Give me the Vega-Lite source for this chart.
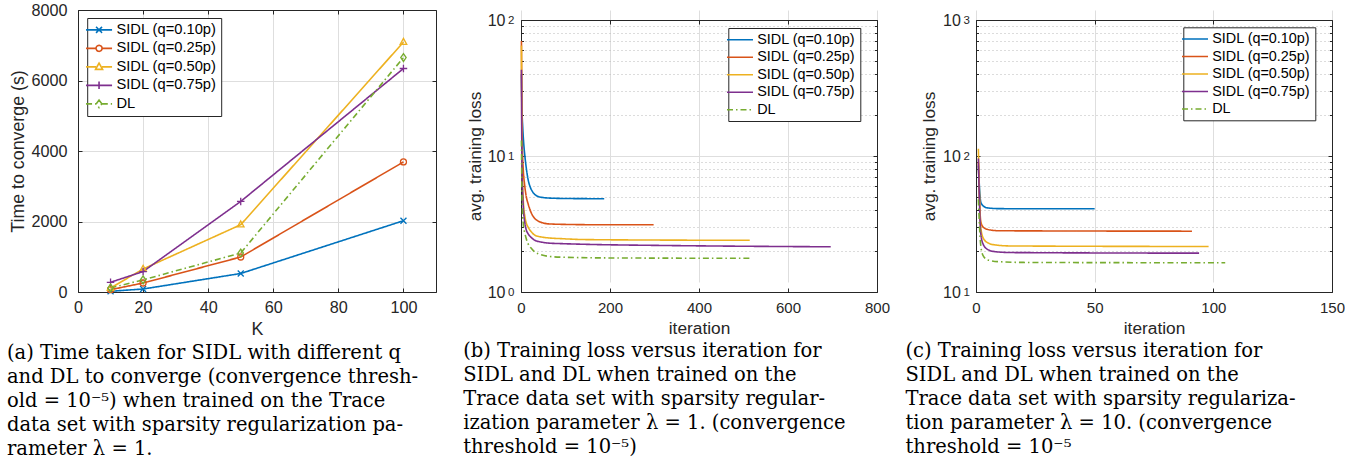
{
  "$schema": "https://vega.github.io/schema/vega-lite/v6.json",
  "padding": {"left": 6, "top": 2, "right": 0, "bottom": 0},
  "background": "white",
  "bounds": "flush",
  "spacing": 85,
  "resolve": {"scale": {"color": "independent", "strokeDash": "independent"}, "legend": {"color": "independent", "strokeDash": "independent"}},
  "config": {
    "font": "Liberation Sans",
    "view": {"stroke": null},
    "axis": {
      "labelFont": "Liberation Sans", "labelFontSize": 15, "labelColor": "#262626",
      "titleFont": "Liberation Sans", "titleFontSize": 17.3, "titleFontWeight": "normal", "titleColor": "#262626",
      "domainColor": "#262626", "tickColor": "#262626", "gridColor": "#dedede", "gridOpacity": 1,
      "labelFlush": false, "labelOverlap": false, "tickSize": -4, "domainWidth": 1, "tickWidth": 1
    },
    "legend": {
      "labelFont": "Liberation Sans", "labelFontSize": 14.4, "labelColor": "#000000",
      "strokeColor": "#262626", "fillColor": "white", "padding": 4.5, "rowPadding": 2.5,
      "symbolSize": 100, "symbolStrokeWidth": 1.6, "labelOffset": 10, "labelLimit": 300
    },
    "title": {
      "font": "DejaVu Serif", "fontSize": 19.5, "fontWeight": "normal", "color": "#000000",
      "anchor": "start", "orient": "bottom", "lineHeight": 24, "offset": 6, "baseline": "top"
    }
  },
  "datasets": {
    "time": [
      {"K": 10, "series": "SIDL (q=0.10p)", "time": 20},
      {"K": 20, "series": "SIDL (q=0.10p)", "time": 85},
      {"K": 50, "series": "SIDL (q=0.10p)", "time": 525},
      {"K": 100, "series": "SIDL (q=0.10p)", "time": 2022},
      {"K": 10, "series": "SIDL (q=0.25p)", "time": 65},
      {"K": 20, "series": "SIDL (q=0.25p)", "time": 255},
      {"K": 50, "series": "SIDL (q=0.25p)", "time": 993},
      {"K": 100, "series": "SIDL (q=0.25p)", "time": 3690},
      {"K": 10, "series": "SIDL (q=0.50p)", "time": 113},
      {"K": 20, "series": "SIDL (q=0.50p)", "time": 652},
      {"K": 50, "series": "SIDL (q=0.50p)", "time": 1909},
      {"K": 100, "series": "SIDL (q=0.50p)", "time": 7090},
      {"K": 10, "series": "SIDL (q=0.75p)", "time": 275},
      {"K": 20, "series": "SIDL (q=0.75p)", "time": 580},
      {"K": 50, "series": "SIDL (q=0.75p)", "time": 2570},
      {"K": 100, "series": "SIDL (q=0.75p)", "time": 6340},
      {"K": 10, "series": "DL", "time": 115},
      {"K": 20, "series": "DL", "time": 345},
      {"K": 50, "series": "DL", "time": 1106},
      {"K": 100, "series": "DL", "time": 6650}
    ],
    "lossB": [
      {"iter": 1, "series": "SIDL (q=0.10p)", "loss": 40},
      {"iter": 2, "series": "SIDL (q=0.10p)", "loss": 24},
      {"iter": 4, "series": "SIDL (q=0.10p)", "loss": 16},
      {"iter": 6, "series": "SIDL (q=0.10p)", "loss": 12.5},
      {"iter": 9, "series": "SIDL (q=0.10p)", "loss": 9.8},
      {"iter": 12, "series": "SIDL (q=0.10p)", "loss": 8.1},
      {"iter": 16, "series": "SIDL (q=0.10p)", "loss": 6.7},
      {"iter": 20, "series": "SIDL (q=0.10p)", "loss": 6.0},
      {"iter": 24, "series": "SIDL (q=0.10p)", "loss": 5.6},
      {"iter": 30, "series": "SIDL (q=0.10p)", "loss": 5.25},
      {"iter": 39, "series": "SIDL (q=0.10p)", "loss": 5.03},
      {"iter": 50, "series": "SIDL (q=0.10p)", "loss": 4.95},
      {"iter": 61, "series": "SIDL (q=0.10p)", "loss": 4.91},
      {"iter": 100, "series": "SIDL (q=0.10p)", "loss": 4.87},
      {"iter": 187, "series": "SIDL (q=0.10p)", "loss": 4.85},
      {"iter": 1, "series": "SIDL (q=0.25p)", "loss": 70},
      {"iter": 2, "series": "SIDL (q=0.25p)", "loss": 20},
      {"iter": 3, "series": "SIDL (q=0.25p)", "loss": 12},
      {"iter": 5, "series": "SIDL (q=0.25p)", "loss": 8.0},
      {"iter": 8, "series": "SIDL (q=0.25p)", "loss": 6.2},
      {"iter": 12, "series": "SIDL (q=0.25p)", "loss": 5.0},
      {"iter": 16, "series": "SIDL (q=0.25p)", "loss": 4.45},
      {"iter": 20, "series": "SIDL (q=0.25p)", "loss": 4.05},
      {"iter": 24, "series": "SIDL (q=0.25p)", "loss": 3.76},
      {"iter": 30, "series": "SIDL (q=0.25p)", "loss": 3.5},
      {"iter": 39, "series": "SIDL (q=0.25p)", "loss": 3.32},
      {"iter": 50, "series": "SIDL (q=0.25p)", "loss": 3.22},
      {"iter": 61, "series": "SIDL (q=0.25p)", "loss": 3.17},
      {"iter": 100, "series": "SIDL (q=0.25p)", "loss": 3.14},
      {"iter": 200, "series": "SIDL (q=0.25p)", "loss": 3.12},
      {"iter": 298, "series": "SIDL (q=0.25p)", "loss": 3.12},
      {"iter": 1, "series": "SIDL (q=0.50p)", "loss": 65},
      {"iter": 2, "series": "SIDL (q=0.50p)", "loss": 12},
      {"iter": 3, "series": "SIDL (q=0.50p)", "loss": 7},
      {"iter": 5, "series": "SIDL (q=0.50p)", "loss": 4.8},
      {"iter": 9, "series": "SIDL (q=0.50p)", "loss": 3.55},
      {"iter": 12, "series": "SIDL (q=0.50p)", "loss": 3.2},
      {"iter": 16, "series": "SIDL (q=0.50p)", "loss": 3.0},
      {"iter": 24, "series": "SIDL (q=0.50p)", "loss": 2.75},
      {"iter": 31, "series": "SIDL (q=0.50p)", "loss": 2.62},
      {"iter": 45, "series": "SIDL (q=0.50p)", "loss": 2.54},
      {"iter": 61, "series": "SIDL (q=0.50p)", "loss": 2.5},
      {"iter": 88, "series": "SIDL (q=0.50p)", "loss": 2.47},
      {"iter": 142, "series": "SIDL (q=0.50p)", "loss": 2.43},
      {"iter": 300, "series": "SIDL (q=0.50p)", "loss": 2.41},
      {"iter": 514, "series": "SIDL (q=0.50p)", "loss": 2.4},
      {"iter": 1, "series": "SIDL (q=0.75p)", "loss": 43},
      {"iter": 2, "series": "SIDL (q=0.75p)", "loss": 10},
      {"iter": 3, "series": "SIDL (q=0.75p)", "loss": 6.5},
      {"iter": 5, "series": "SIDL (q=0.75p)", "loss": 4.3},
      {"iter": 9, "series": "SIDL (q=0.75p)", "loss": 3.17},
      {"iter": 12, "series": "SIDL (q=0.75p)", "loss": 2.85},
      {"iter": 16, "series": "SIDL (q=0.75p)", "loss": 2.68},
      {"iter": 24, "series": "SIDL (q=0.75p)", "loss": 2.5},
      {"iter": 31, "series": "SIDL (q=0.75p)", "loss": 2.4},
      {"iter": 45, "series": "SIDL (q=0.75p)", "loss": 2.33},
      {"iter": 61, "series": "SIDL (q=0.75p)", "loss": 2.29},
      {"iter": 88, "series": "SIDL (q=0.75p)", "loss": 2.27},
      {"iter": 150, "series": "SIDL (q=0.75p)", "loss": 2.24},
      {"iter": 312, "series": "SIDL (q=0.75p)", "loss": 2.2},
      {"iter": 500, "series": "SIDL (q=0.75p)", "loss": 2.17},
      {"iter": 696, "series": "SIDL (q=0.75p)", "loss": 2.15},
      {"iter": 1, "series": "DL", "loss": 13},
      {"iter": 2, "series": "DL", "loss": 6},
      {"iter": 3, "series": "DL", "loss": 4.3},
      {"iter": 5, "series": "DL", "loss": 3.2},
      {"iter": 9, "series": "DL", "loss": 2.68},
      {"iter": 12, "series": "DL", "loss": 2.45},
      {"iter": 16, "series": "DL", "loss": 2.26},
      {"iter": 24, "series": "DL", "loss": 2.08},
      {"iter": 31, "series": "DL", "loss": 1.97},
      {"iter": 45, "series": "DL", "loss": 1.88},
      {"iter": 61, "series": "DL", "loss": 1.83},
      {"iter": 100, "series": "DL", "loss": 1.8},
      {"iter": 200, "series": "DL", "loss": 1.78},
      {"iter": 514, "series": "DL", "loss": 1.77}
    ],
    "lossC": [
      {"iter": 1, "series": "SIDL (q=0.10p)", "loss": 85},
      {"iter": 2, "series": "SIDL (q=0.10p)", "loss": 46},
      {"iter": 3, "series": "SIDL (q=0.10p)", "loss": 43},
      {"iter": 5, "series": "SIDL (q=0.10p)", "loss": 41.5},
      {"iter": 10, "series": "SIDL (q=0.10p)", "loss": 41},
      {"iter": 50, "series": "SIDL (q=0.10p)", "loss": 40.9},
      {"iter": 1, "series": "SIDL (q=0.25p)", "loss": 90},
      {"iter": 2, "series": "SIDL (q=0.25p)", "loss": 33},
      {"iter": 3, "series": "SIDL (q=0.25p)", "loss": 30},
      {"iter": 5, "series": "SIDL (q=0.25p)", "loss": 28.8},
      {"iter": 10, "series": "SIDL (q=0.25p)", "loss": 28.2},
      {"iter": 91, "series": "SIDL (q=0.25p)", "loss": 28},
      {"iter": 1, "series": "SIDL (q=0.50p)", "loss": 113},
      {"iter": 2, "series": "SIDL (q=0.50p)", "loss": 30},
      {"iter": 3, "series": "SIDL (q=0.50p)", "loss": 25},
      {"iter": 5, "series": "SIDL (q=0.50p)", "loss": 23},
      {"iter": 8, "series": "SIDL (q=0.50p)", "loss": 22.2},
      {"iter": 15, "series": "SIDL (q=0.50p)", "loss": 21.8},
      {"iter": 98, "series": "SIDL (q=0.50p)", "loss": 21.6},
      {"iter": 1, "series": "SIDL (q=0.75p)", "loss": 96},
      {"iter": 2, "series": "SIDL (q=0.75p)", "loss": 27},
      {"iter": 3, "series": "SIDL (q=0.75p)", "loss": 22.5},
      {"iter": 5, "series": "SIDL (q=0.75p)", "loss": 20.5},
      {"iter": 8, "series": "SIDL (q=0.75p)", "loss": 19.8},
      {"iter": 15, "series": "SIDL (q=0.75p)", "loss": 19.5},
      {"iter": 94, "series": "SIDL (q=0.75p)", "loss": 19.3},
      {"iter": 1, "series": "DL", "loss": 48},
      {"iter": 2, "series": "DL", "loss": 22},
      {"iter": 3, "series": "DL", "loss": 18.5},
      {"iter": 5, "series": "DL", "loss": 17.2},
      {"iter": 10, "series": "DL", "loss": 16.7},
      {"iter": 20, "series": "DL", "loss": 16.5},
      {"iter": 105, "series": "DL", "loss": 16.4}
    ]
  },
  "hconcat": [
    {
      "width": 358, "height": 282,
      "title": {"text": ["(a) Time taken for SIDL with different q", "and DL to converge (convergence thresh-", "old = 10⁻⁵) when trained on the Trace", "data set with sparsity regularization pa-", "rameter λ = 1."], "dx": -3},
      "data": {"name": "time"},
      "layer": [
        {
          "mark": {"type": "line", "strokeWidth": 1.6},
          "encoding": {
            "x": {"field": "K", "type": "quantitative", "scale": {"domain": [0, 110], "nice": false, "zero": false},
                  "axis": {"orient": "bottom", "values": [0, 20, 40, 60, 80, 100], "format": "d", "grid": true, "title": "K", "labelFontSize": 16.2, "titleFontSize": 17.8, "labelPadding": 11, "titlePadding": 5}},
            "y": {"field": "time", "type": "quantitative", "scale": {"domain": [0, 8000], "nice": false},
                  "axis": {"orient": "left", "values": [0, 2000, 4000, 6000, 8000], "format": "d", "grid": true, "title": "Time to converge (s)", "labelFontSize": 16.2, "titleFontSize": 17.8, "labelPadding": 15, "titlePadding": 3}},
            "color": {"field": "series", "type": "nominal",
                      "scale": {"domain": ["SIDL (q=0.10p)", "SIDL (q=0.25p)", "SIDL (q=0.50p)", "SIDL (q=0.75p)", "DL"], "range": ["#0072BD", "#D95319", "#EDB120", "#7E2F8E", "#77AC30"]},
                      "legend": {"title": null, "orient": "none", "legendX": 9.2, "legendY": 8, "labelFontSize": 14.7,
                                 "encode": {"symbols": {"update": {"fill": {"value": "transparent"}, "shape": {"signal": "datum.value === 'SIDL (q=0.10p)' ? 'M-2.6,0L2.6,0M-0.6,-0.6L0.6,0.6M-0.6,0.6L0.6,-0.6' : datum.value === 'SIDL (q=0.25p)' ? 'M-2.6,0L-0.6,0M0.6,0L2.6,0M0.6,0A0.6,0.6 0 1,1 -0.6,0A0.6,0.6 0 1,1 0.6,0' : datum.value === 'SIDL (q=0.50p)' ? 'M-2.6,0L-0.6,0M0.6,0L2.6,0M0,-0.75L0.7,0.5L-0.7,0.5Z' : datum.value === 'SIDL (q=0.75p)' ? 'M-2.6,0L2.6,0M0,-0.75L0,0.75' : 'M-2.6,0L-0.55,0M0.55,0L2.6,0M0,-0.75L0.55,0L0,0.75L-0.55,0Z'"}}}}}},
            "strokeDash": {"field": "series", "type": "nominal",
                           "scale": {"domain": ["SIDL (q=0.10p)", "SIDL (q=0.25p)", "SIDL (q=0.50p)", "SIDL (q=0.75p)", "DL"], "range": [[1, 0], [1, 0], [1, 0], [1, 0], [6, 3, 1.5, 3]]},
                           "legend": {"title": null, "orient": "none", "legendX": 9.2, "legendY": 8, "labelFontSize": 14.7}}
          }
        },
        {
          "mark": {"type": "point", "filled": false, "strokeWidth": 1.3, "size": 36, "opacity": 1},
          "encoding": {
            "x": {"field": "K", "type": "quantitative", "axis": null},
            "y": {"field": "time", "type": "quantitative", "axis": null},
            "color": {"field": "series", "type": "nominal", "legend": null},
            "shape": {"condition": [
                        {"test": "datum.series === 'SIDL (q=0.10p)'", "value": "M-1,-1L1,1M-1,1L1,-1"},
                        {"test": "datum.series === 'SIDL (q=0.25p)'", "value": "M1,0A1,1 0 1,1 -1,0A1,1 0 1,1 1,0Z"},
                        {"test": "datum.series === 'SIDL (q=0.50p)'", "value": "M0,-1.25L1.1,0.75L-1.1,0.75Z"},
                        {"test": "datum.series === 'SIDL (q=0.75p)'", "value": "M-1.25,0L1.25,0M0,-1.25L0,1.25"}
                      ],
                      "value": "M0,-1.3L0.9,0L0,1.3L-0.9,0Z"}
          }
        },
        {
          "mark": {"type": "point", "opacity": 0},
          "encoding": {
            "x": {"field": "K", "type": "quantitative", "axis": {"orient": "top", "values": [0, 20, 40, 60, 80, 100], "labels": false, "grid": false, "title": null}},
            "y": {"field": "time", "type": "quantitative", "axis": {"orient": "right", "values": [0, 2000, 4000, 6000, 8000], "labels": false, "grid": false, "title": null}}
          }
        }
      ],
      "resolve": {"axis": {"x": "independent", "y": "independent"}}
    },
    {
      "width": 370, "height": 282,
      "title": {"text": ["(b) Training loss versus iteration for", "SIDL and DL when trained on the", "Trace data set with sparsity regular-", "ization parameter λ = 1. (convergence", "threshold = 10⁻⁵)"], "dx": -3},
      "data": {"name": "lossB"},
      "layer": [
        {
          "mark": {"type": "line", "strokeWidth": 1.6, "interpolate": "monotone"},
          "encoding": {
            "x": {"field": "iter", "type": "quantitative", "scale": {"domain": [0, 800], "nice": false, "zero": false, "range": [0, 356]},
                  "axis": {"orient": "bottom", "values": [0, 200, 400, 600, 800], "grid": true, "title": "iteration", "labelPadding": 12, "titlePadding": 4}},
            "y": {"field": "loss", "type": "quantitative", "scale": {"type": "log", "domain": [1, 100], "nice": false, "range": [282, 10]},
                  "axis": {"orient": "left", "values": [1, 10, 100], "grid": true, "labelExpr": "'10'", "labelFontSize": 16, "labelDy": 3, "labelPadding": 20, "title": "avg. training loss", "titlePadding": 3}},
            "color": {"field": "series", "type": "nominal",
                      "scale": {"domain": ["SIDL (q=0.10p)", "SIDL (q=0.25p)", "SIDL (q=0.50p)", "SIDL (q=0.75p)", "DL"], "range": ["#0072BD", "#D95319", "#EDB120", "#7E2F8E", "#77AC30"]},
                      "legend": {"title": null, "orient": "none", "legendX": 207.3, "legendY": 18,
                                 "encode": {"symbols": {"update": {"fill": {"value": "transparent"}, "shape": {"value": "M-2.6,0L2.6,0"}}}}}},
            "strokeDash": {"field": "series", "type": "nominal",
                           "scale": {"domain": ["SIDL (q=0.10p)", "SIDL (q=0.25p)", "SIDL (q=0.50p)", "SIDL (q=0.75p)", "DL"], "range": [[1, 0], [1, 0], [1, 0], [1, 0], [6, 3, 1.5, 3]]},
                           "legend": {"title": null, "orient": "none", "legendX": 207.3, "legendY": 18}}
          }
        },
        {
          "mark": {"type": "point", "opacity": 0},
          "encoding": {
            "x": {"field": "iter", "type": "quantitative", "axis": {"orient": "top", "offset": -10, "values": [0, 200, 400, 600, 800], "labels": false, "grid": false, "title": null}},
            "y": {"field": "loss", "type": "quantitative", "axis": {"orient": "right", "offset": -14, "values": [1, 10, 100], "labels": false, "grid": false, "title": null}}
          }
        },
        {
          "mark": {"type": "point", "opacity": 0},
          "encoding": {
            "x": {"field": "iter", "type": "quantitative", "axis": null},
            "y": {"field": "loss", "type": "quantitative", "axis": {"orient": "left", "values": [2, 3, 4, 5, 6, 7, 8, 9, 20, 30, 40, 50, 60, 70, 80, 90], "labels": false, "domain": false, "grid": true, "gridDash": [1, 3], "gridColor": "#b8b8b8", "tickSize": -2.5, "title": null}}
          }
        },
        {
          "mark": {"type": "point", "opacity": 0},
          "encoding": {
            "x": {"field": "iter", "type": "quantitative", "axis": null},
            "y": {"field": "loss", "type": "quantitative", "axis": {"orient": "right", "offset": -14, "values": [2, 3, 4, 5, 6, 7, 8, 9, 20, 30, 40, 50, 60, 70, 80, 90], "labels": false, "domain": false, "grid": false, "tickSize": -2.5, "title": null}}
          }
        },
        {
          "mark": {"type": "point", "opacity": 0},
          "encoding": {
            "x": {"field": "iter", "type": "quantitative", "axis": null},
            "y": {"field": "loss", "type": "quantitative", "axis": {"orient": "left", "values": [1, 10, 100], "labelExpr": "'' + round(log(datum.value) / LN10)", "labelFontSize": 11.5, "labelDy": -4, "labelPadding": 7, "ticks": false, "domain": false, "grid": false, "title": null}}
          }
        }
      ],
      "resolve": {"axis": {"x": "independent", "y": "independent"}}
    },
    {
      "width": 356, "height": 282,
      "title": {"text": ["(c) Training loss versus iteration for", "SIDL and DL when trained on the", "Trace data set with sparsity regulariza-", "tion parameter λ = 10. (convergence", "threshold = 10⁻⁵"], "dx": -15},
      "data": {"name": "lossC"},
      "layer": [
        {
          "mark": {"type": "line", "strokeWidth": 1.6, "interpolate": "monotone"},
          "encoding": {
            "x": {"field": "iter", "type": "quantitative", "scale": {"domain": [0, 150], "nice": false, "zero": false},
                  "axis": {"orient": "bottom", "values": [0, 50, 100, 150], "grid": true, "title": "iteration", "labelPadding": 12, "titlePadding": 4}},
            "y": {"field": "loss", "type": "quantitative", "scale": {"type": "log", "domain": [10, 1000], "nice": false, "range": [282, 10]},
                  "axis": {"orient": "left", "values": [10, 100, 1000], "grid": true, "labelExpr": "'10'", "labelFontSize": 16, "labelDy": 3, "labelPadding": 19.7, "title": "avg. training loss", "titlePadding": 4}},
            "color": {"field": "series", "type": "nominal",
                      "scale": {"domain": ["SIDL (q=0.10p)", "SIDL (q=0.25p)", "SIDL (q=0.50p)", "SIDL (q=0.75p)", "DL"], "range": ["#0072BD", "#D95319", "#EDB120", "#7E2F8E", "#77AC30"]},
                      "legend": {"title": null, "orient": "none", "legendX": 207.3, "legendY": 17.3,
                                 "encode": {"symbols": {"update": {"fill": {"value": "transparent"}, "shape": {"value": "M-2.6,0L2.6,0"}}}}}},
            "strokeDash": {"field": "series", "type": "nominal",
                           "scale": {"domain": ["SIDL (q=0.10p)", "SIDL (q=0.25p)", "SIDL (q=0.50p)", "SIDL (q=0.75p)", "DL"], "range": [[1, 0], [1, 0], [1, 0], [1, 0], [6, 3, 1.5, 3]]},
                           "legend": {"title": null, "orient": "none", "legendX": 207.3, "legendY": 17.3}}
          }
        },
        {
          "mark": {"type": "point", "opacity": 0},
          "encoding": {
            "x": {"field": "iter", "type": "quantitative", "axis": {"orient": "top", "offset": -10, "values": [0, 50, 100, 150], "labels": false, "grid": false, "title": null}},
            "y": {"field": "loss", "type": "quantitative", "axis": {"orient": "right", "values": [10, 100, 1000], "labels": false, "grid": false, "title": null}}
          }
        },
        {
          "mark": {"type": "point", "opacity": 0},
          "encoding": {
            "x": {"field": "iter", "type": "quantitative", "axis": null},
            "y": {"field": "loss", "type": "quantitative", "axis": {"orient": "left", "values": [20, 30, 40, 50, 60, 70, 80, 90, 200, 300, 400, 500, 600, 700, 800, 900], "labels": false, "domain": false, "grid": true, "gridDash": [1, 3], "gridColor": "#b8b8b8", "tickSize": -2.5, "title": null}}
          }
        },
        {
          "mark": {"type": "point", "opacity": 0},
          "encoding": {
            "x": {"field": "iter", "type": "quantitative", "axis": null},
            "y": {"field": "loss", "type": "quantitative", "axis": {"orient": "right", "values": [20, 30, 40, 50, 60, 70, 80, 90, 200, 300, 400, 500, 600, 700, 800, 900], "labels": false, "domain": false, "grid": false, "tickSize": -2.5, "title": null}}
          }
        },
        {
          "mark": {"type": "point", "opacity": 0},
          "encoding": {
            "x": {"field": "iter", "type": "quantitative", "axis": null},
            "y": {"field": "loss", "type": "quantitative", "axis": {"orient": "left", "values": [10, 100, 1000], "labelExpr": "'' + round(log(datum.value) / LN10)", "labelFontSize": 11.5, "labelDy": -4, "labelPadding": 6.7, "ticks": false, "domain": false, "grid": false, "title": null}}
          }
        }
      ],
      "resolve": {"axis": {"x": "independent", "y": "independent"}}
    }
  ]
}
